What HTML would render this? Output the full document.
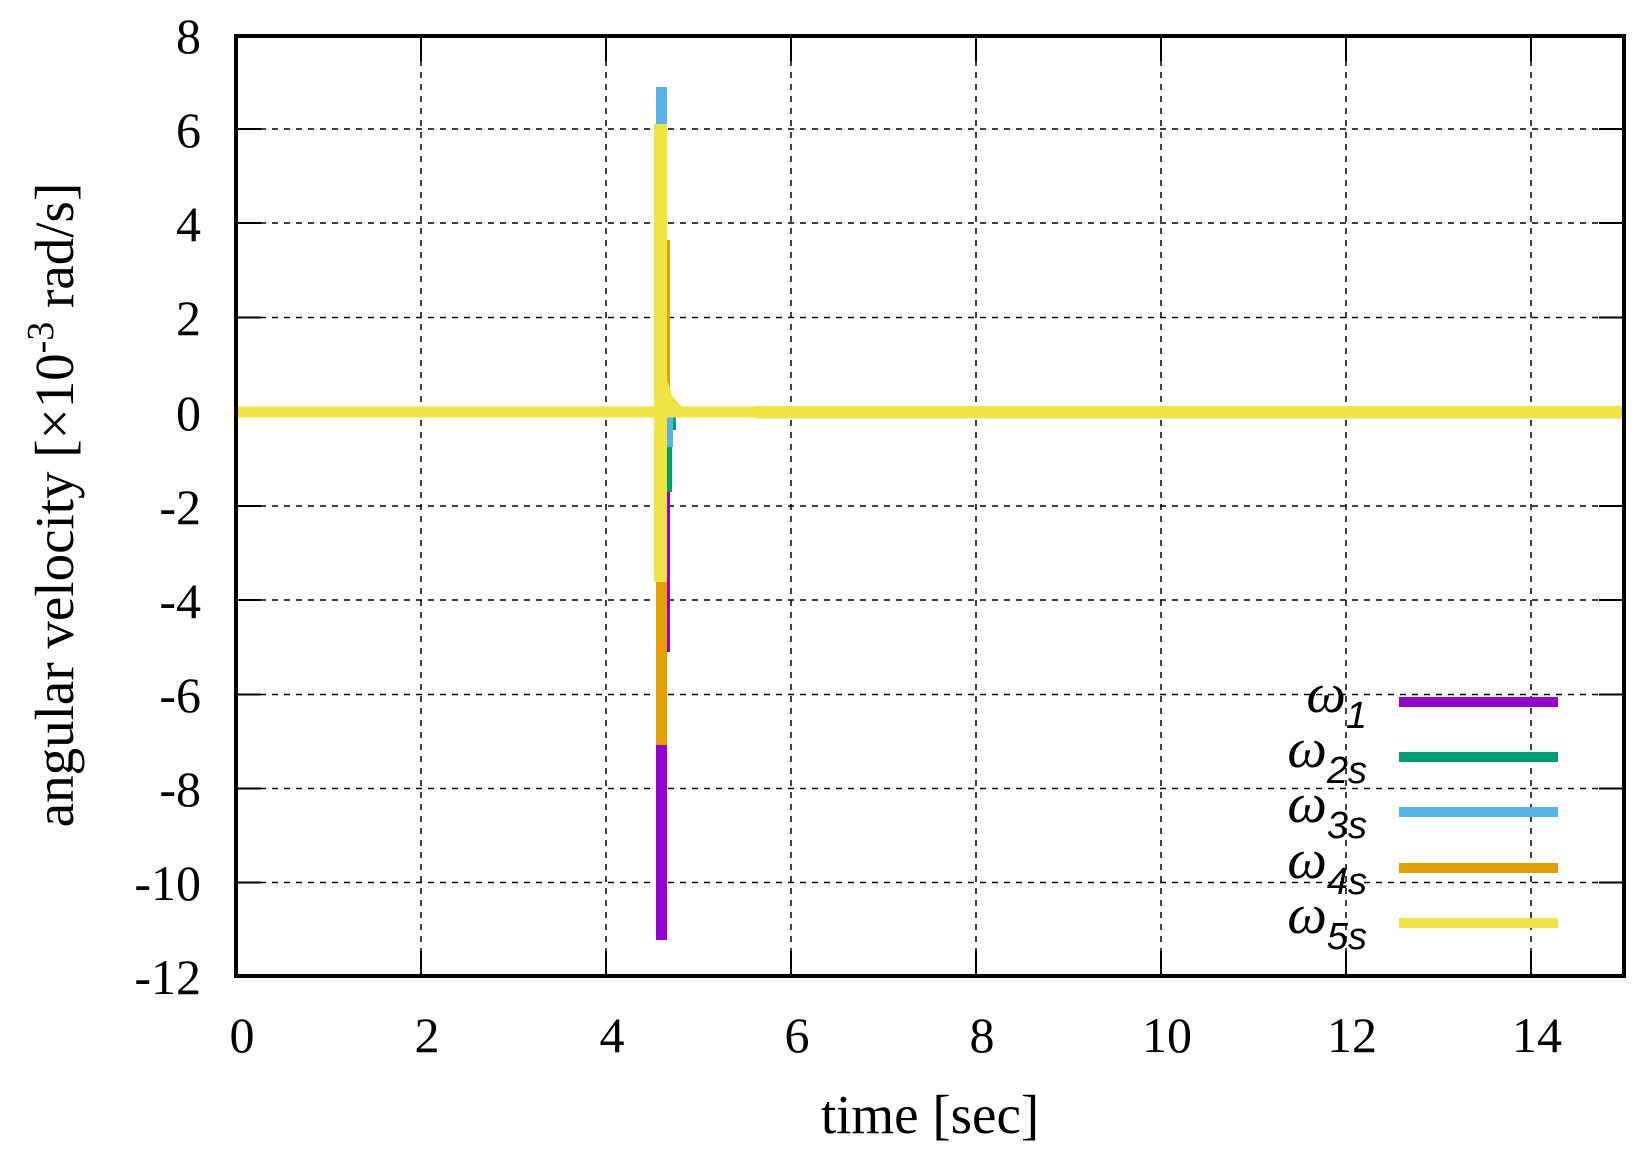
<!DOCTYPE html>
<html><head><meta charset="utf-8"><style>
html,body{margin:0;padding:0;background:#fff;}
svg{display:block;}
text{font-family:"Liberation Serif",serif;fill:#000;}
</style></head><body>
<svg width="1649" height="1158" viewBox="0 0 1649 1158" xmlns="http://www.w3.org/2000/svg">
<g stroke="#000" stroke-width="1.5" stroke-dasharray="6,6">
<line x1="236" y1="129" x2="1624" y2="129"/>
<line x1="236" y1="223" x2="1624" y2="223"/>
<line x1="236" y1="317.5" x2="1624" y2="317.5"/>
<line x1="236" y1="506" x2="1624" y2="506"/>
<line x1="236" y1="600" x2="1624" y2="600"/>
<line x1="236" y1="694.5" x2="1624" y2="694.5"/>
<line x1="236" y1="788.5" x2="1624" y2="788.5"/>
<line x1="236" y1="882.5" x2="1624" y2="882.5"/>
<line x1="421" y1="36" x2="421" y2="976"/>
<line x1="606" y1="36" x2="606" y2="976"/>
<line x1="791" y1="36" x2="791" y2="976"/>
<line x1="976" y1="36" x2="976" y2="976"/>
<line x1="1161" y1="36" x2="1161" y2="976"/>
<line x1="1346" y1="36" x2="1346" y2="976"/>
<line x1="1531" y1="36" x2="1531" y2="976"/>
</g>
<g stroke="#000" stroke-width="2">
<path d="M236 129h25M236 223h25M236 317.5h25M236 412h25M236 506h25M236 600h25M236 694.5h25M236 788.5h25M236 882.5h25"/>
<path d="M1624 129h-25M1624 223h-25M1624 317.5h-25M1624 412h-25M1624 506h-25M1624 600h-25M1624 694.5h-25M1624 788.5h-25M1624 882.5h-25"/>
<path d="M421 976v-25M606 976v-25M791 976v-25M976 976v-25M1161 976v-25M1346 976v-25M1531 976v-25"/>
<path d="M421 36v25M606 36v25M791 36v25M976 36v25M1161 36v25M1346 36v25M1531 36v25"/>
</g>
<!-- data -->
<rect x="656" y="412" width="11" height="528" fill="#9400d3"/>
<rect x="667" y="412" width="3" height="240" fill="#9400d3"/>
<rect x="667" y="412" width="5" height="80" fill="#009e73"/>
<rect x="667" y="412" width="9" height="18" fill="#009e73"/>
<rect x="667" y="412" width="6" height="35" fill="#56b4e9"/>
<rect x="656" y="412" width="11" height="333" fill="#e69f00"/>
<rect x="667" y="240" width="3" height="172" fill="#e69f00"/>
<rect x="656" y="87" width="11" height="60" fill="#56b4e9"/>
<rect x="654" y="124" width="13" height="458" fill="#f0e442"/>
<polygon points="667,380 672,395 680,405 690,410 700,412 667,412" fill="#f0e442"/>
<rect x="236" y="406.5" width="520" height="11" fill="#f0e442"/>
<rect x="756" y="406" width="868" height="12.5" fill="#f0e442"/>
<rect x="236" y="36" width="1388" height="940" fill="none" stroke="#000" stroke-width="4"/>
<!-- legend -->
<rect x="1399" y="697" width="159" height="10" fill="#9400d3"/>
<rect x="1399" y="752" width="159" height="10" fill="#009e73"/>
<rect x="1399" y="807" width="159" height="10" fill="#56b4e9"/>
<rect x="1399" y="863" width="159" height="10" fill="#e69f00"/>
<rect x="1399" y="918" width="159" height="10" fill="#f0e442"/>
<g font-size="56" text-anchor="end">
<text x="1367" y="712"><tspan font-style="italic">ω</tspan><tspan font-family="Liberation Sans,sans-serif" font-style="italic" font-size="38" dy="16">1</tspan></text>
<text x="1367" y="767"><tspan font-style="italic">ω</tspan><tspan font-family="Liberation Sans,sans-serif" font-style="italic" font-size="38" dy="16">2s</tspan></text>
<text x="1367" y="822"><tspan font-style="italic">ω</tspan><tspan font-family="Liberation Sans,sans-serif" font-style="italic" font-size="38" dy="16">3s</tspan></text>
<text x="1367" y="878"><tspan font-style="italic">ω</tspan><tspan font-family="Liberation Sans,sans-serif" font-style="italic" font-size="38" dy="16">4s</tspan></text>
<text x="1367" y="933"><tspan font-style="italic">ω</tspan><tspan font-family="Liberation Sans,sans-serif" font-style="italic" font-size="38" dy="16">5s</tspan></text>
</g>
<!-- tick labels -->
<g font-size="50" text-anchor="end">
<text x="201" y="53">8</text>
<text x="201" y="147">6</text>
<text x="201" y="241">4</text>
<text x="201" y="335">2</text>
<text x="201" y="430">0</text>
<text x="201" y="524">-2</text>
<text x="201" y="618">-4</text>
<text x="201" y="712">-6</text>
<text x="201" y="806">-8</text>
<text x="201" y="900">-10</text>
<text x="201" y="994">-12</text>
</g>
<g font-size="50" text-anchor="middle">
<text x="242" y="1052">0</text>
<text x="427" y="1052">2</text>
<text x="612" y="1052">4</text>
<text x="797" y="1052">6</text>
<text x="982" y="1052">8</text>
<text x="1167" y="1052">10</text>
<text x="1352" y="1052">12</text>
<text x="1537" y="1052">14</text>
</g>
<text x="930" y="1133" font-size="55" text-anchor="middle">time [sec]</text>
<text transform="translate(73,505) rotate(-90)" font-size="55" text-anchor="middle">angular velocity [×10<tspan font-size="38" dy="-20">-3</tspan><tspan dy="20"> rad/s]</tspan></text>
</svg>
</body></html>
